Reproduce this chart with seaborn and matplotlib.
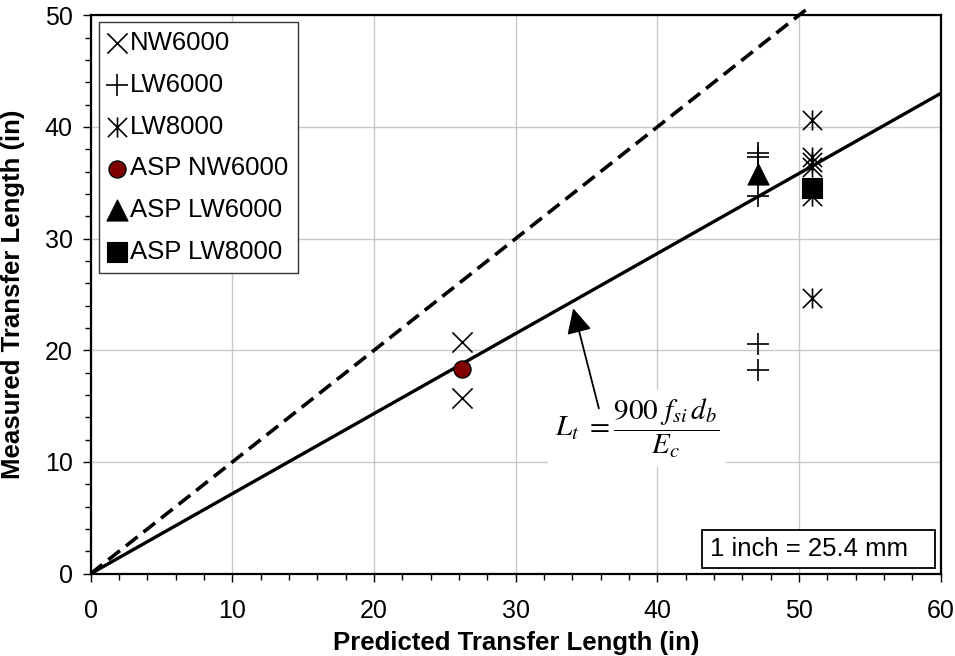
import matplotlib
matplotlib.use("Agg")
import matplotlib.pyplot as plt
from matplotlib.path import Path
from matplotlib.patches import Rectangle
from matplotlib.ticker import MultipleLocator
import seaborn as sns

# Transfer length data (in): predicted vs. measured
nw6000_pred = [26.2, 26.2]
nw6000_meas = [20.7, 15.7]

lw6000_pred = [47.1, 47.1, 47.1, 47.1, 47.1]
lw6000_meas = [37.7, 37.3, 33.8, 20.6, 18.2]

lw8000_pred = [50.9, 50.9, 50.9, 50.9, 50.9, 50.9, 50.9]
lw8000_meas = [40.6, 37.3, 36.9, 36.4, 34.5, 33.8, 24.7]

asp_nw6000_pred = [26.2]
asp_nw6000_meas = [18.3]
asp_lw6000_pred = [47.1]
asp_lw6000_meas = [35.8]
asp_lw8000_pred = [50.9]
asp_lw8000_meas = [34.5]

# Reference lines: 1:1 line and the transfer length equation
equality_x = [0, 50.7]
equality_y = [0, 50.7]
equation_x = [0, 60]
equation_y = [0, 43]

# Arrow from equation label to its line
arrow_tip = (34.06, 23.76)
arrow_tail = (35.87, 14.8)

sns.set_style("ticks")
plt.rcParams["font.family"] = ["Liberation Sans", "DejaVu Sans"]
plt.rcParams["mathtext.fontset"] = "stix"
for key in ["text.color", "axes.labelcolor", "xtick.color", "ytick.color"]:
    plt.rcParams[key] = "black"

fig = plt.figure(figsize=(9.55, 6.56), dpi=100)
ax = fig.add_axes([0.095, 0.1255, 0.890, 0.8513])

# six-armed asterisk marker (X plus vertical stroke)
asterisk = Path(
    [(-1, -1), (1, 1), (-1, 1), (1, -1), (0, -1.05), (0, 1.05)],
    [Path.MOVETO, Path.LINETO, Path.MOVETO, Path.LINETO, Path.MOVETO, Path.LINETO],
)

sns.lineplot(x=equality_x, y=equality_y, color="black", lw=2.6,
             linestyle=(0, (4.1, 2.1)), legend=False, ax=ax, clip_on=False, zorder=3)
sns.lineplot(x=equation_x, y=equation_y, color="black", lw=2.4,
             legend=False, ax=ax, zorder=3)

sns.scatterplot(x=nw6000_pred, y=nw6000_meas, marker="x", s=210, color="black",
                linewidth=1.2, label="NW6000", ax=ax, zorder=4)
sns.scatterplot(x=lw6000_pred, y=lw6000_meas, marker="+", s=230, color="black",
                linewidth=1.2, label="LW6000", ax=ax, zorder=4)
sns.scatterplot(x=lw8000_pred, y=lw8000_meas, marker=asterisk, s=210, color="black",
                edgecolor="black", linewidth=1.2, label="LW8000", ax=ax, zorder=4)
sns.scatterplot(x=asp_nw6000_pred, y=asp_nw6000_meas, marker="o", s=150,
                color="#800000", edgecolor="black", linewidth=1.0,
                label="ASP NW6000", ax=ax, zorder=5)
sns.scatterplot(x=asp_lw6000_pred, y=asp_lw6000_meas, marker="^", s=230,
                color="black", edgecolor="black", linewidth=0.8,
                label="ASP LW6000", ax=ax, zorder=5)
sns.scatterplot(x=asp_lw8000_pred, y=asp_lw8000_meas, marker="s", s=190,
                color="black", edgecolor="black", linewidth=0.8,
                label="ASP LW8000", ax=ax, zorder=5)

ax.set_xlim(0, 60)
ax.set_ylim(0, 50)
ax.xaxis.set_major_locator(MultipleLocator(10))
ax.xaxis.set_minor_locator(MultipleLocator(2))
ax.yaxis.set_major_locator(MultipleLocator(10))
ax.yaxis.set_minor_locator(MultipleLocator(2))
ax.grid(True, which="major", color="#c8c8c8", lw=1.0)
ax.set_axisbelow(True)

for side in ["left", "bottom", "top", "right"]:
    ax.spines[side].set_visible(True)
    ax.spines[side].set_color("black")
    ax.spines[side].set_linewidth(1.6)

ax.tick_params(axis="both", which="major", direction="out", length=6, width=1.0,
               labelsize=18, color="black", labelcolor="black")
ax.tick_params(axis="both", which="minor", direction="out", length=4, width=1.0,
               color="black")
ax.tick_params(axis="x", which="major", pad=12)
ax.tick_params(axis="y", which="major", pad=7)

ax.set_xlabel("Predicted Transfer Length (in)", fontsize=18.5, fontweight="bold",
              color="black")
ax.set_ylabel("Measured Transfer Length (in)", fontsize=18.5, fontweight="bold",
              color="black")
ax.xaxis.set_label_coords(0.5, -0.103)
ax.yaxis.set_label_coords(-0.077, 0.5)

leg = ax.legend(loc="upper left", bbox_to_anchor=(0.0098, 0.988), borderaxespad=0,
                fontsize=18.5, frameon=True, fancybox=False, framealpha=1,
                edgecolor="#333333", handlelength=0.7, handletextpad=0.15,
                labelspacing=0.69, borderpad=0.36)
leg.get_frame().set_linewidth(1.0)
for t in leg.get_texts():
    t.set_color("black")

# equation label with white background and arrow to the line
ax.text(38.55, 13.0, r"$L_t\ = \dfrac{900\ f_{si}\,d_b}{E_c}$", fontsize=21,
        ha="center", va="center", zorder=6,
        bbox=dict(facecolor="white", edgecolor="none", pad=5))
ax.annotate("", xy=arrow_tip, xytext=arrow_tail, zorder=6,
            arrowprops=dict(arrowstyle="-|>,head_length=0.9,head_width=0.45",
                            color="black", lw=1.3, mutation_scale=17,
                            shrinkA=0, shrinkB=0))

# unit conversion note
ax.add_patch(Rectangle((0.7195, 0.0102), 0.2735, 0.0683, transform=ax.transAxes,
                       facecolor="white", edgecolor="black", lw=1.3, zorder=6))
ax.text(0.7286, 0.0445, "1 inch = 25.4 mm", transform=ax.transAxes, fontsize=18.5,
        ha="left", va="center", zorder=7)

fig.savefig("out.png", dpi=100)
